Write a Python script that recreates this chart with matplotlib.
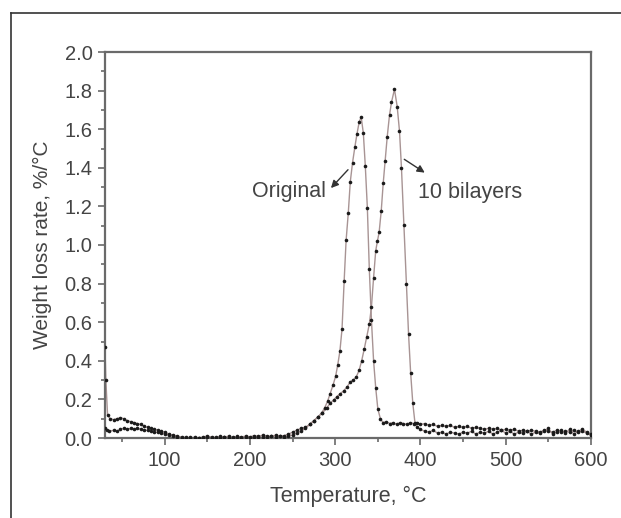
import matplotlib
matplotlib.use("Agg")
import matplotlib.pyplot as plt
from matplotlib.lines import Line2D
from matplotlib.ticker import MultipleLocator

plt.rcParams['font.family'] = ['Liberation Sans', 'DejaVu Sans']

# Original sample (DTG)
orig_t = [30, 31, 33, 36, 40, 44, 48, 52, 56, 60, 64, 68, 72, 76, 80, 84, 88, 92, 96, 100,
          105, 110, 115, 120, 125, 130, 135, 140, 145, 150, 155, 160, 165, 170, 175, 180, 185,
          190, 195, 200, 205, 210, 215, 220, 225, 230, 235, 240, 245, 250, 255, 260, 265, 270,
          275, 280, 284, 287.5, 291, 294, 297.5, 300.5, 303, 305.5, 308, 310.5, 312.8, 315.3,
          317.7, 320.3, 323, 325.5, 328.2, 330.5, 333, 335.3, 337.7, 340, 342.5, 345, 347.5,
          350, 353, 356, 360, 364, 368, 372, 376, 380, 384, 388, 392, 396, 400,
          405, 410, 415, 420, 425, 430, 435, 440, 445, 450, 455, 460, 465, 470, 475, 480, 485,
          490, 495, 500, 505, 510, 515, 520, 525, 530, 535, 540, 545, 550, 555, 560, 565, 570,
          575, 580, 585, 590, 595, 600]
orig_v = [0.47, 0.30, 0.12, 0.10, 0.095, 0.10, 0.105, 0.10, 0.09, 0.085, 0.08, 0.075, 0.07,
          0.06, 0.055, 0.05, 0.045, 0.04, 0.035, 0.03,
          0.02, 0.015, 0.01, 0.005, 0.003, 0.0, 0.004, 0.0, 0.005, 0.01, 0.005, 0.002, 0.008,
          0.004, 0.01, 0.003, 0.008, 0.005, 0.01, 0.006, 0.012, 0.008, 0.015, 0.01, 0.008,
          0.015, 0.01, 0.012, 0.02, 0.03, 0.04, 0.05, 0.055, 0.07,
          0.09, 0.11, 0.13, 0.155, 0.19, 0.23, 0.275, 0.32, 0.38, 0.45, 0.565, 0.815, 1.025,
          1.164, 1.328, 1.426, 1.506, 1.575, 1.639, 1.662, 1.579, 1.409, 1.193, 0.874, 0.61,
          0.40, 0.26, 0.15, 0.10, 0.08, 0.085, 0.075, 0.08, 0.07, 0.08, 0.075, 0.07, 0.08,
          0.075, 0.08, 0.07,
          0.075, 0.065, 0.07, 0.06, 0.065, 0.06, 0.065, 0.055, 0.06, 0.055, 0.06, 0.05, 0.055,
          0.05, 0.045, 0.05, 0.045, 0.05, 0.04, 0.045, 0.04, 0.045, 0.035, 0.04, 0.035, 0.04,
          0.035, 0.03, 0.04, 0.035, 0.03, 0.04, 0.03, 0.035, 0.03, 0.04, 0.03, 0.035, 0.025,
          0.015]

# 10 bilayers coated sample (DTG)
bil_t = [30, 32, 35, 40, 44, 48, 52, 56, 60, 64, 68, 72, 76, 80, 84, 88, 92, 96, 100,
         105, 110, 115, 120, 125, 130, 135, 140, 145, 150, 155, 160, 165, 170, 175, 180, 185,
         190, 195, 200, 205, 210, 215, 220, 225, 230, 235, 240, 245, 250, 255, 260, 265, 270,
         275, 280, 285, 290, 294, 298, 302, 306, 310, 314, 317.5, 321, 324.5, 328, 331, 334,
         337, 340, 342.5, 345, 347.5, 349.5, 351.5, 354, 356.3, 358.6, 361, 363.7, 366, 369.5,
         372.7, 375.4, 377.7, 380.5, 383.5, 386, 388.5, 391, 393.5, 396, 400,
         405, 410, 415, 420, 425, 430, 435, 440, 445, 450, 455, 460, 465, 470, 475, 480, 485,
         490, 495, 500, 505, 510, 515, 520, 525, 530, 535, 540, 545, 550, 555, 560, 565, 570,
         575, 580, 585, 590, 595, 600]
bil_v = [0.05, 0.04, 0.035, 0.04, 0.035, 0.045, 0.05, 0.045, 0.05, 0.045, 0.05, 0.045, 0.04,
         0.04, 0.035, 0.03, 0.03, 0.025, 0.02,
         0.015, 0.01, 0.005, 0.002, 0.0, 0.003, 0.0, 0.002, 0.0, 0.004, 0.0, 0.003, 0.0, 0.004,
         0.002, 0.0, 0.003, 0.0, 0.004, 0.002, 0.005, 0.003, 0.006, 0.004, 0.008, 0.005, 0.01,
         0.006, 0.012, 0.015, 0.025, 0.035, 0.05, 0.07,
         0.09, 0.11, 0.13, 0.155, 0.18, 0.197, 0.215, 0.23, 0.245, 0.265, 0.29, 0.30, 0.315,
         0.35, 0.40, 0.46, 0.525, 0.59, 0.68, 0.83, 0.97, 1.02, 1.065, 1.178, 1.32, 1.437,
         1.561, 1.674, 1.739, 1.807, 1.717, 1.59, 1.40, 1.105, 0.80, 0.54, 0.335, 0.18, 0.08,
         0.055, 0.045,
         0.035, 0.03, 0.04, 0.025, 0.03, 0.02, 0.03, 0.025, 0.02, 0.03, 0.025, 0.035, 0.02,
         0.03, 0.025, 0.035, 0.02, 0.03, 0.04, 0.025, 0.035, 0.02, 0.03, 0.025, 0.035, 0.02,
         0.03, 0.025, 0.035, 0.05, 0.02, 0.03, 0.04, 0.025, 0.045, 0.02, 0.035, 0.045, 0.03,
         0.02]

fig = plt.figure(figsize=(6.21, 5.18), dpi=100)
ax = fig.add_axes([105 / 621, 1 - 438 / 518, 486 / 621, 386 / 518])

line_c = '#a89494'
for t, v in [(orig_t, orig_v), (bil_t, bil_v)]:
    ax.plot(t, v, '-', color=line_c, lw=1.0, zorder=2)
    ax.plot(t, v, 'o', color='#1a1a1a', ms=2.6, mew=0, zorder=3)

ax.set_xlim(30, 600)
ax.set_ylim(0, 2.0)
ax.xaxis.set_major_locator(MultipleLocator(100))
ax.xaxis.set_minor_locator(MultipleLocator(50))
ax.yaxis.set_major_locator(MultipleLocator(0.2))
ax.yaxis.set_minor_locator(MultipleLocator(0.1))
ax.yaxis.set_major_formatter(plt.FormatStrFormatter('%.1f'))

spine_c = '#6a6a6a'
for s in ax.spines.values():
    s.set_color(spine_c)
    s.set_linewidth(1.6)
ax.tick_params(which='both', direction='out', color=spine_c, width=1.2,
               labelsize=14.5, labelcolor='#444444', top=False, right=False)
ax.tick_params(which='major', length=5, pad=4)
ax.tick_params(which='minor', length=3)

ax.set_xlabel('Temperature, °C', fontsize=15.5, color='#444444', labelpad=12)
ax.set_ylabel('Weight loss rate, %/°C', fontsize=15, color='#444444', labelpad=9)

# annotations
ax.annotate('', xy=(295, 1.295), xytext=(315, 1.39),
            arrowprops=dict(arrowstyle='-|>', color='#333333', lw=1.0,
                            mutation_scale=11, shrinkA=0, shrinkB=0))
ax.text(289, 1.275, 'Original', fontsize=15.5, color='#444444', ha='right', va='center')
ax.annotate('', xy=(405, 1.375), xytext=(381, 1.444),
            arrowprops=dict(arrowstyle='-|>', color='#333333', lw=1.0,
                            mutation_scale=11, shrinkA=0, shrinkB=0))
ax.text(397, 1.27, '10 bilayers', fontsize=15.5, color='#444444', ha='left', va='center')

# outer frame of the figure panel
fig.add_artist(Line2D([11 / 621, 1], [1 - 13 / 518, 1 - 13 / 518],
                      color='#333333', lw=1.2, transform=fig.transFigure))
fig.add_artist(Line2D([11 / 621, 11 / 621], [0, 1 - 13 / 518],
                      color='#333333', lw=1.2, transform=fig.transFigure))

fig.savefig('out.png', dpi=100)
